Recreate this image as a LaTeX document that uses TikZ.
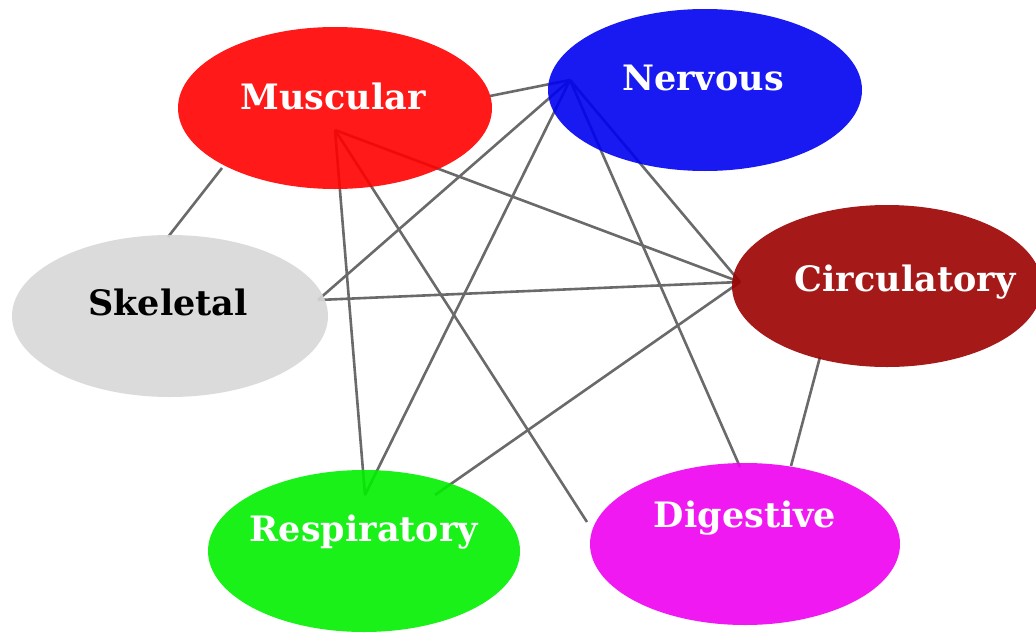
\documentclass[tikz,border=0pt]{standalone}
\usepackage{fontspec}
\setmainfont{DejaVu Serif}
\usetikzlibrary{shapes.geometric,backgrounds}
\definecolor{musc}{HTML}{FF0000}
\definecolor{nerv}{HTML}{0000F0}
\definecolor{circ}{HTML}{9C0000}
\definecolor{skel}{HTML}{D8D8D8}
\definecolor{resp}{HTML}{00F000}
\definecolor{dige}{HTML}{F000F0}
\definecolor{link}{HTML}{6A6A6A}
\tikzset{
  organ/.style={ellipse, inner sep=0pt, minimum width=314pt, minimum height=162pt,
    fill opacity=0.9, text opacity=1},
  lbl/.style={font=\bfseries\fontsize{35}{35}\selectfont, inner sep=0pt},
  conn/.style={draw=link, line width=2.6pt},
}
\begin{document}
\begin{tikzpicture}[x=1pt,y=-1pt]
\useasboundingbox (0,0) rectangle (1036,632);
\clip (0,0) rectangle (1036,632);
% ellipses
\node[organ, fill=musc] (M) at (335,108) {};
\node[organ, fill=nerv] (N) at (705,90) {};
\node[organ, fill=circ, minimum width=310pt] (C) at (887,286) {};
\node[organ, fill=skel, minimum width=316pt] (S) at (170,316) {};
\node[organ, fill=resp, minimum width=312pt] (R) at (364,551) {};
\node[organ, fill=dige, minimum width=310pt] (D) at (745,544) {};
% labels
\node[lbl, text=white] (Mt) at (333,96) {Muscular};
\node[lbl, text=white] (Nt) at (703,78) {Nervous};
\node[lbl, text=white] (Ct) at (905,282) {Circulatory};
\node[lbl, text=black] (St) at (168,302) {Skeletal};
\node[lbl, text=white] (Rt) at (364,532) {Respiratory};
\node[lbl, text=white] (Dt) at (745,518) {Digestive};
% hubs
\coordinate (mh) at (335,130);
\coordinate (nh) at (570,80);
\coordinate (ch) at (740,282);
\coordinate (sh) at (318,300);
\coordinate (rh1) at (365,495);
\coordinate (rh2) at (435,495);
\coordinate (dh1) at (587,522);
\coordinate (dh2) at (740,467);
\coordinate (dh3) at (791,466);
\coordinate (me) at (490,96);
\coordinate (ms) at (222,168);
\coordinate (sm) at (168,237);
\coordinate (cd) at (820,357);
\begin{pgfonlayer}{background}
\fill[white] (0,0) rectangle (1036,632);
\draw[conn] (me) -- (nh);
\draw[conn] (ms) -- (sm);
\draw[conn] (mh) -- (ch);
\draw[conn] (mh) -- (rh1);
\draw[conn] (mh) -- (dh1);
\draw[conn] (nh) -- (sh);
\draw[conn] (nh) -- (rh1);
\draw[conn] (nh) -- (ch);
\draw[conn] (nh) -- (dh2);
\draw[conn] (sh) -- (ch);
\draw[conn] (rh2) -- (ch);
\draw[conn] (cd) -- (dh3);
\end{pgfonlayer}
\end{tikzpicture}
\end{document}
